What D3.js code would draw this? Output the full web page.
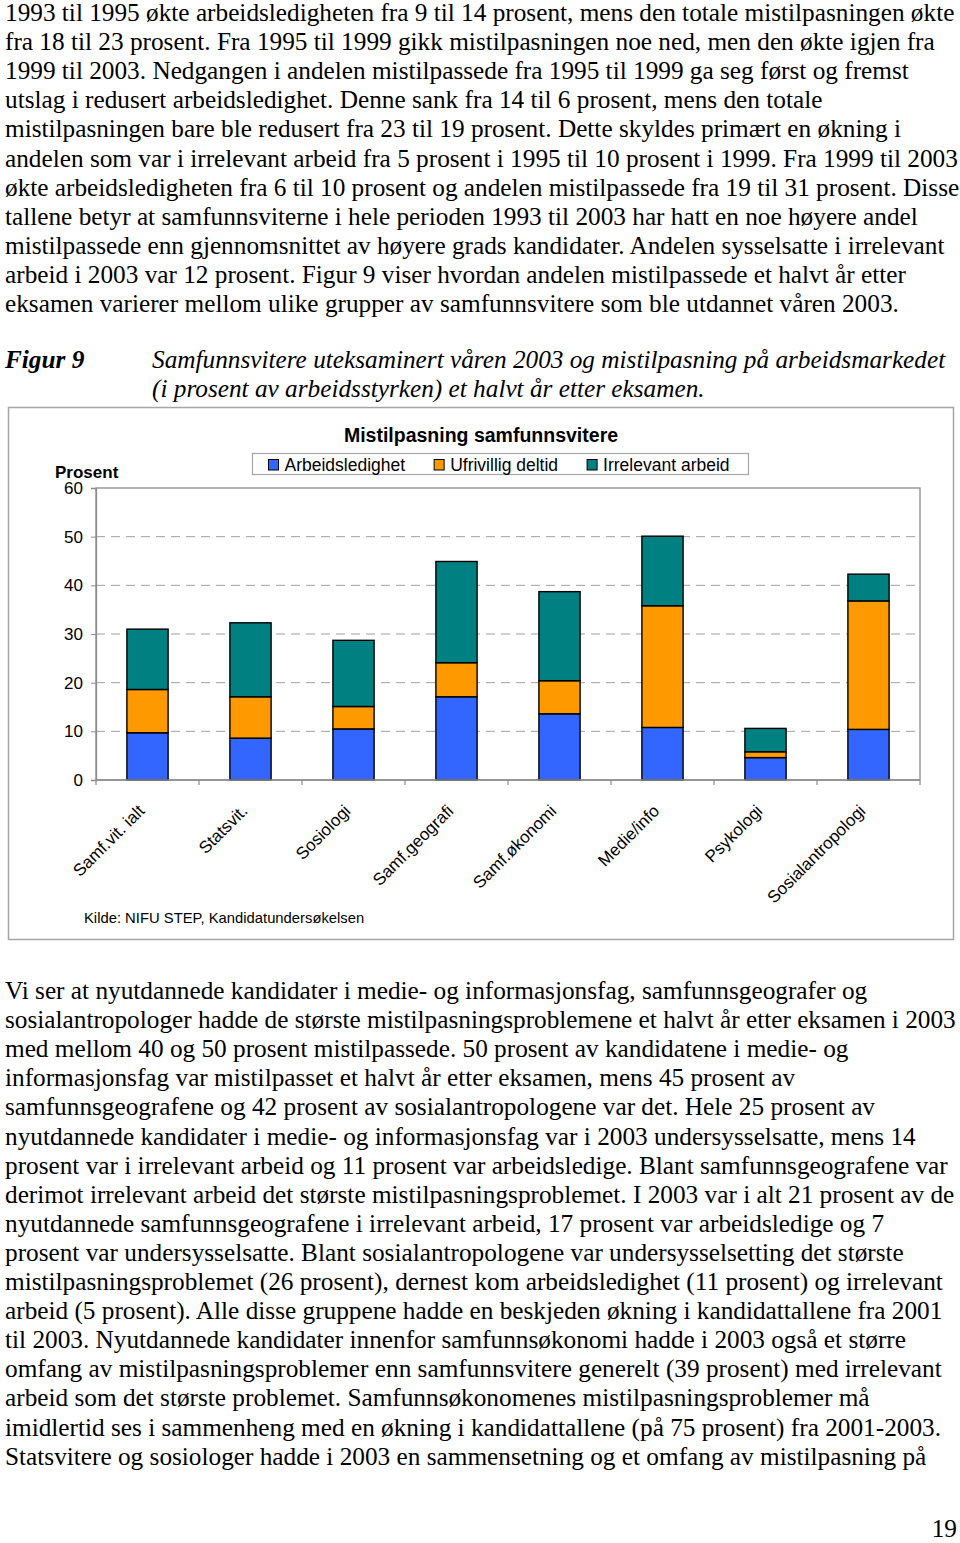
<!DOCTYPE html>
<html><head><meta charset="utf-8">
<script src="https://cdn.jsdelivr.net/npm/d3@7"></script>
<style>body{margin:0;background:#fff} svg{display:block}
.sans{font-family:"Liberation Sans",Arial,"DejaVu Sans",sans-serif}
</style>
</head><body>
<script>
// ---------- data ----------
const categories = ["Samf.vit. ialt","Statsvit.","Sosiologi","Samf.geografi","Samf.økonomi","Medie/info","Psykologi","Sosialantropologi"];
const arbeidsledighet  = [9.7, 8.6, 10.5, 17.1, 13.6, 10.8, 4.6, 10.4];
const ufrivilligDeltid = [8.9, 8.5, 4.6, 7.0, 6.8, 25.0, 1.2, 26.4];
const irrelevantArbeid = [12.4, 15.2, 13.6, 20.8, 18.3, 14.3, 4.8, 5.5];
const seriesNames  = ["Arbeidsledighet","Ufrivillig deltid","Irrelevant arbeid"];
const seriesColors = ["#3366FF","#FF9900","#008080"];
const yTicks = [0,10,20,30,40,50,60];
const chartTitle = "Mistilpasning samfunnsvitere";
const yAxisTitle = "Prosent";
const sourceNote = "Kilde: NIFU STEP, Kandidatundersøkelsen";

const paragraphTop = [
"1993 til 1995 økte arbeidsledigheten fra 9 til 14 prosent, mens den totale mistilpasningen økte",
"fra 18 til 23 prosent. Fra 1995 til 1999 gikk mistilpasningen noe ned, men den økte igjen fra",
"1999 til 2003. Nedgangen i andelen mistilpassede fra 1995 til 1999 ga seg først og fremst",
"utslag i redusert arbeidsledighet. Denne sank fra 14 til 6 prosent, mens den totale",
"mistilpasningen bare ble redusert fra 23 til 19 prosent. Dette skyldes primært en økning i",
"andelen som var i irrelevant arbeid fra 5 prosent i 1995 til 10 prosent i 1999. Fra 1999 til 2003",
"økte arbeidsledigheten fra 6 til 10 prosent og andelen mistilpassede fra 19 til 31 prosent. Disse",
"tallene betyr at samfunnsviterne i hele perioden 1993 til 2003 har hatt en noe høyere andel",
"mistilpassede enn gjennomsnittet av høyere grads kandidater. Andelen sysselsatte i irrelevant",
"arbeid i 2003 var 12 prosent. Figur 9 viser hvordan andelen mistilpassede et halvt år etter",
"eksamen varierer mellom ulike grupper av samfunnsvitere som ble utdannet våren 2003."
];
const captionLabel = "Figur 9";
const captionLines = [
"Samfunnsvitere uteksaminert våren 2003 og mistilpasning på arbeidsmarkedet",
"(i prosent av arbeidsstyrken) et halvt år etter eksamen."
];
const paragraphBottom = [
"Vi ser at nyutdannede kandidater i medie- og informasjonsfag, samfunnsgeografer og",
"sosialantropologer hadde de største mistilpasningsproblemene et halvt år etter eksamen i 2003",
"med mellom 40 og 50 prosent mistilpassede. 50 prosent av kandidatene i medie- og",
"informasjonsfag var mistilpasset et halvt år etter eksamen, mens 45 prosent av",
"samfunnsgeografene og 42 prosent av sosialantropologene var det. Hele 25 prosent av",
"nyutdannede kandidater i medie- og informasjonsfag var i 2003 undersysselsatte, mens 14",
"prosent var i irrelevant arbeid og 11 prosent var arbeidsledige. Blant samfunnsgeografene var",
"derimot irrelevant arbeid det største mistilpasningsproblemet. I 2003 var i alt 21 prosent av de",
"nyutdannede samfunnsgeografene i irrelevant arbeid, 17 prosent var arbeidsledige og 7",
"prosent var undersysselsatte. Blant sosialantropologene var undersysselsetting det største",
"mistilpasningsproblemet (26 prosent), dernest kom arbeidsledighet (11 prosent) og irrelevant",
"arbeid (5 prosent). Alle disse gruppene hadde en beskjeden økning i kandidattallene fra 2001",
"til 2003. Nyutdannede kandidater innenfor samfunnsøkonomi hadde i 2003 også et større",
"omfang av mistilpasningsproblemer enn samfunnsvitere generelt (39 prosent) med irrelevant",
"arbeid som det største problemet. Samfunnsøkonomenes mistilpasningsproblemer må",
"imidlertid ses i sammenheng med en økning i kandidattallene (på 75 prosent) fra 2001-2003.",
"Statsvitere og sosiologer hadde i 2003 en sammensetning og et omfang av mistilpasning på"
];
const pageNumber = "19";

// ---------- pick an installed serif face (fallback to sans) ----------
const serifCandidates = ["Liberation Serif","Tinos","Times New Roman","Times","DejaVu Serif","Noto Serif","Nimbus Roman","FreeSerif"];
const ctx = document.createElement("canvas").getContext("2d");
const sample = "Mistilpasningen 1993 økte arbeidsledigheten";
function widthWith(f) { ctx.font = f; return ctx.measureText(sample).width; }
let serifFamily = null;
for (const c of serifCandidates) {
  const a = widthWith(`25px "${c}", monospace`), b = widthWith(`25px monospace`);
  const a2 = widthWith(`25px "${c}", sans-serif`), b2 = widthWith(`25px sans-serif`);
  if (Math.abs(a - b) > 0.5 && Math.abs(a2 - b2) > 0.5) { serifFamily = `"${c}", serif`; break; }
}
if (!serifFamily) serifFamily = `"Liberation Serif", serif`;

// ---------- layout ----------
const W = 960, H = 1543;
const bodySize = 25, lineGap = 29.1;

const svg = d3.select("body").append("svg").attr("width", W).attr("height", H);
svg.append("rect").attr("width", W).attr("height", H).attr("fill", "#fff");

const probe = svg.append("text").style("font-family", serifFamily).style("font-size", bodySize + "px").text(paragraphTop[0]);
const sx = 950 / probe.node().getComputedTextLength();
probe.remove();

function textBlock(lines, x0, y0, opts = {}) {
  const g = svg.append("g");
  lines.forEach((t, i) => {
    g.append("text")
      .attr("transform", `translate(${x0},${y0 + i * lineGap}) scale(${sx},1)`)
      .style("font-family", serifFamily)
      .style("font-size", bodySize + "px")
      .style("font-style", opts.italic ? "italic" : "normal")
      .style("font-weight", opts.bold ? "bold" : "normal")
      .attr("fill", "#000").text(t);
  });
}
textBlock(paragraphTop, 5, 21);
textBlock([captionLabel], 5, 368, { italic: true, bold: true });
textBlock(captionLines, 152, 368, { italic: true });
textBlock(paragraphBottom, 5, 999);
svg.append("text").attr("transform", `translate(957,1537) scale(${sx},1)`)
  .attr("text-anchor", "end").style("font-family", serifFamily).style("font-size", bodySize + "px").text(pageNumber);

// ---------- chart ----------
svg.append("rect").attr("x", 8.5).attr("y", 407.5).attr("width", 945).attr("height", 532)
  .attr("fill", "none").attr("stroke", "#a6a6a6").attr("stroke-width", 1.5);

const plot = { left: 96, right: 920, top: 488, bottom: 780 };
const y = d3.scaleLinear().domain([0, 60]).range([plot.bottom, plot.top]);
const xCat = d3.scaleBand().domain(categories).range([plot.left, plot.right]).padding(0);
const xBar = d3.scaleBand().domain(categories).range([plot.left, plot.right]).paddingInner(0.6).paddingOuter(0.3);

svg.append("g").selectAll("line").data(yTicks.filter(d => d > 0 && d < 60)).join("line")
  .attr("x1", plot.left).attr("x2", plot.right).attr("y1", d => y(d)).attr("y2", d => y(d))
  .attr("stroke", "#a0a0a0").attr("stroke-width", 1).attr("stroke-dasharray", "9,6");

svg.append("rect").attr("x", plot.left).attr("y", plot.top)
  .attr("width", plot.right - plot.left).attr("height", plot.bottom - plot.top)
  .attr("fill", "none").attr("stroke", "#8c8c8c").attr("stroke-width", 1.3);

const rows = categories.map((c, i) => ({ cat: c, a: arbeidsledighet[i], u: ufrivilligDeltid[i], r: irrelevantArbeid[i] }));
const stack = d3.stack().keys(["a", "u", "r"])(rows);
svg.append("g").selectAll("g").data(stack).join("g")
  .attr("fill", (d, i) => seriesColors[i])
  .selectAll("rect").data(d => d).join("rect")
  .attr("x", d => xBar(d.data.cat)).attr("width", xBar.bandwidth())
  .attr("y", d => y(d[1])).attr("height", d => y(d[0]) - y(d[1]))
  .attr("stroke", "#000").attr("stroke-width", 1.4);

const yAxis = d3.axisLeft(y).tickValues(yTicks).tickSize(5).tickPadding(8);
const yg = svg.append("g").attr("transform", `translate(${plot.left},0)`).call(yAxis);
yg.attr("font-family", null).attr("font-size", null);
yg.select(".domain").attr("stroke", "#8c8c8c").attr("stroke-width", 1.3);
yg.selectAll(".tick line").attr("stroke", "#8c8c8c");
yg.selectAll(".tick text").attr("class", "sans").style("font-size", "17px").attr("fill", "#000");

const bounds = categories.map(c => xCat(c)).concat([plot.right]);
svg.append("g").selectAll("line").data(bounds).join("line")
  .attr("x1", d => d).attr("x2", d => d).attr("y1", plot.bottom).attr("y2", plot.bottom + 5)
  .attr("stroke", "#8c8c8c").attr("stroke-width", 1.2);
svg.append("line").attr("x1", plot.left).attr("x2", plot.right).attr("y1", plot.bottom).attr("y2", plot.bottom)
  .attr("stroke", "#8c8c8c").attr("stroke-width", 1.3);

svg.append("g").selectAll("text").data(categories).join("text")
  .attr("class", "sans")
  .attr("transform", d => `translate(${xCat(d) + xCat.bandwidth() / 2 - 2},${plot.bottom + 32}) rotate(-45)`)
  .attr("text-anchor", "end").style("font-size", "17px").attr("fill", "#000")
  .text(d => d);

svg.append("text").attr("class", "sans").attr("x", 481).attr("y", 441.5).attr("text-anchor", "middle")
  .style("font-size", "19.5px").style("font-weight", "bold").text(chartTitle);
svg.append("text").attr("class", "sans").attr("x", 55).attr("y", 477.5)
  .style("font-size", "17px").style("font-weight", "bold").text(yAxisTitle);
svg.append("text").attr("class", "sans").attr("x", 84).attr("y", 923)
  .style("font-size", "14.8px").text(sourceNote);

const lg = svg.append("g");
lg.append("rect").attr("x", 252.5).attr("y", 453.5).attr("width", 496).attr("height", 21)
  .attr("fill", "#fff").attr("stroke", "#a6a6a6").attr("stroke-width", 1.2);
let lx = 268.5;
seriesNames.forEach((n, i) => {
  lg.append("rect").attr("x", lx).attr("y", 459.5).attr("width", 10).attr("height", 10.5)
    .attr("fill", seriesColors[i]).attr("stroke", "#000").attr("stroke-width", 1);
  const t = lg.append("text").attr("class", "sans").attr("x", lx + 16).attr("y", 470.5)
    .style("font-size", "17.5px").attr("fill", "#000").text(n);
  lx += 16 + t.node().getComputedTextLength() + 29;
});
</script>
</body></html>
